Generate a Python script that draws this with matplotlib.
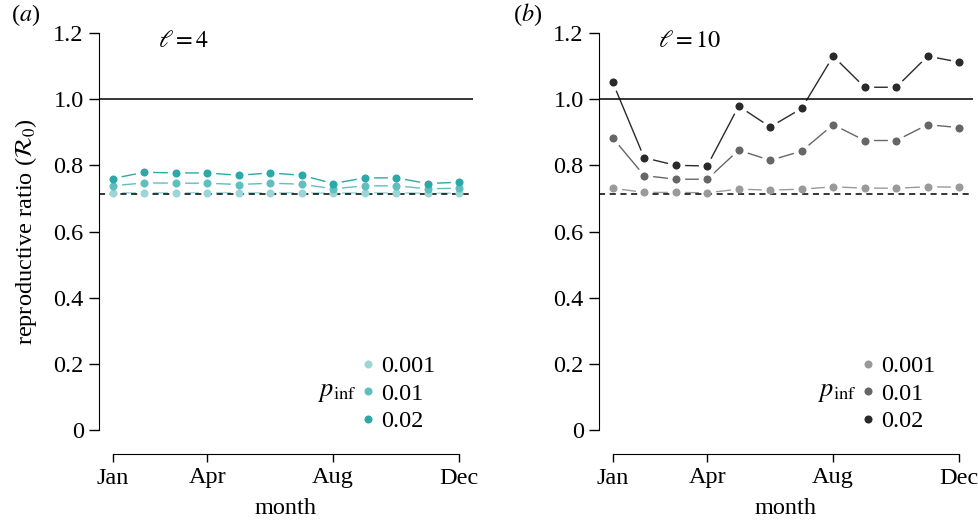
import matplotlib
matplotlib.use('Agg')
import matplotlib.pyplot as plt
from matplotlib.lines import Line2D

plt.rcParams['font.family'] = ['Liberation Serif', 'DejaVu Serif']
plt.rcParams['mathtext.fontset'] = 'stix'
plt.rcParams['font.size'] = 17.5

months = list(range(1, 13))
month_ticks = [1, 4, 8, 12]
month_labels = ['Jan', 'Apr', 'Aug', 'Dec']
p_inf = ['0.001', '0.01', '0.02']

# panel (a), l = 4
r0_l4_001 = [0.717, 0.717, 0.717, 0.717, 0.717, 0.717, 0.717, 0.716, 0.717, 0.717, 0.716, 0.716]
r0_l4_01 = [0.738, 0.747, 0.746, 0.746, 0.742, 0.746, 0.743, 0.729, 0.738, 0.738, 0.729, 0.731]
r0_l4_02 = [0.760, 0.779, 0.777, 0.777, 0.770, 0.777, 0.770, 0.745, 0.762, 0.762, 0.745, 0.749]

# panel (b), l = 10
r0_l10_001 = [0.731, 0.718, 0.718, 0.717, 0.728, 0.725, 0.728, 0.735, 0.731, 0.731, 0.735, 0.734]
r0_l10_01 = [0.883, 0.769, 0.758, 0.758, 0.846, 0.815, 0.843, 0.923, 0.875, 0.875, 0.923, 0.914]
r0_l10_02 = [1.051, 0.823, 0.800, 0.798, 0.979, 0.916, 0.972, 1.130, 1.036, 1.036, 1.130, 1.112]

baseline = 0.714
threshold = 1.0

teal = ['#9ad6d6', '#5fbfbf', '#2ca8a8']
greys = ['#9a9a9a', '#666666', '#2a2a2a']

fig = plt.figure(figsize=(9.79, 5.22), dpi=100)
ax1 = fig.add_axes([99 / 979, 92 / 522, 374 / 979, 397 / 522])
ax2 = fig.add_axes([599 / 979, 92 / 522, 374 / 979, 397 / 522])


def draw_panel(ax, series, colors, ell):
    for y, c in zip(series, colors):
        ax.plot(months, y, color=c, lw=1.0, zorder=1)
    for y in series:
        ax.plot(months, y, ls='none', marker='o', ms=12.5, mfc='white', mec='none', zorder=2)
    ax.axhline(threshold, color='black', lw=1.1, zorder=3)
    ax.axhline(baseline, color='black', lw=1.1, ls=(0, (4, 3)), zorder=3)
    for y, c in zip(series, colors):
        ax.plot(months, y, ls='none', marker='o', ms=5.8, mfc=c, mec='none', zorder=4)

    ax.set_xlim(0.565, 12.44)
    ax.set_ylim(0, 1.2)
    ax.set_yticks([0, 0.2, 0.4, 0.6, 0.8, 1.0, 1.2])
    ax.set_yticklabels(['0', '0.2', '0.4', '0.6', '0.8', '1.0', '1.2'])
    ax.set_xticks(month_ticks)
    ax.set_xticklabels(month_labels)
    ax.spines['top'].set_visible(False)
    ax.spines['right'].set_visible(False)
    ax.spines['bottom'].set_position(('outward', 17))
    ax.spines['bottom'].set_bounds(1, 12)
    ax.spines['left'].set_bounds(0, 1.2)
    ax.tick_params(axis='y', length=7, width=1, pad=4)
    ax.tick_params(axis='x', length=6, width=1, pad=4)
    ax.set_xlabel('month', labelpad=7)
    ax.patch.set_alpha(0)

    ax.text(0.158, 0.978, r'$\ell = %d$' % ell, transform=ax.transAxes,
            ha='left', va='center', fontsize=17.5)

    handles = [Line2D([], [], ls='none', marker='o', ms=5.8, mfc=c, mec='none') for c in colors]
    ax.legend(handles, p_inf, loc='upper left', bbox_to_anchor=(0.7, 0.188),
              frameon=False, handlelength=0.6, handletextpad=0.25,
              labelspacing=0.22, borderpad=0, borderaxespad=0, fontsize=17.5)
    ax.text(0.69, 0.093, r'$p_{\mathrm{inf}}$', transform=ax.transAxes,
            ha='right', va='center', fontsize=19)


draw_panel(ax1, [r0_l4_001, r0_l4_01, r0_l4_02], teal, 4)
draw_panel(ax2, [r0_l10_001, r0_l10_01, r0_l10_02], greys, 10)

ax1.set_ylabel(r'reproductive ratio ($\mathcal{R}_0$)', labelpad=10)

fig.text(0.011, 0.972, r'($a$)', ha='left', va='center', fontsize=17.5)
fig.text(0.524, 0.972, r'($b$)', ha='left', va='center', fontsize=17.5)

fig.savefig('out.png', dpi=100)
